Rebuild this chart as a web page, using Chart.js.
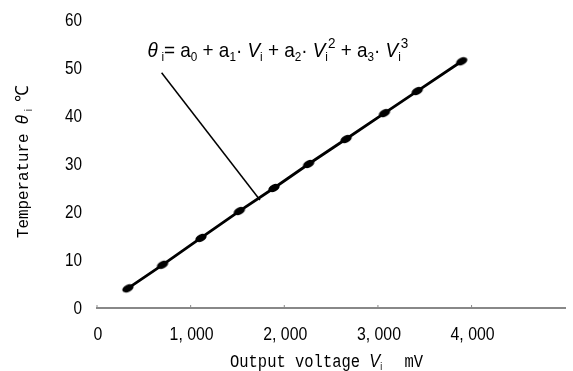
<!DOCTYPE html>
<html lang="en">
<head>
    <meta charset="UTF-8">
    <title>Temperature vs output voltage</title>
    <script src="https://cdn.jsdelivr.net/npm/chart.js"></script>
    <style>
        body { margin: 0; background: #fff; }
    </style>
</head>
<body>
    <canvas id="grafico" width="573" height="371"></canvas>

<script>
    // dados
    const voltage = [330, 700, 1110, 1520, 1890, 2260, 2660, 3070, 3420, 3895];
    const temperature = [4.1, 9.0, 14.6, 20.2, 25.0, 30.0, 35.2, 40.6, 45.2, 51.4];
    const xTicks = [0, 1000, 2000, 3000, 4000];
    const xTickLabels = ['0', '1, 000', '2, 000', '3, 000', '4, 000'];
    const yTicks = [0, 10, 20, 30, 40, 50, 60];
    // linha que liga a formula a curva
    const leaderV = [690, 1740];
    const leaderT = [49.0, 22.5];
    const formulaV = 540;
    const formulaT = 52.3;

    const sans = "'Liberation Sans', Arial, sans-serif";
    const mono = "'Liberation Mono', 'DejaVu Sans Mono', monospace";

    function pontos(xs, ys) {
        return xs.map((v, i) => ({ x: v, y: ys[i] }));
    }

    // marcador em forma de elipse inclinada, como no grafico original
    function marcador() {
        const c = document.createElement('canvas');
        c.width = 16; c.height = 16;
        const g = c.getContext('2d');
        g.fillStyle = '#000';
        g.beginPath();
        g.ellipse(8, 8, 6, 3.6, -25 * Math.PI / 180, 0, Math.PI * 2);
        g.fill();
        return c;
    }

    // escreve texto com partes em fontes diferentes, comprimido na horizontal
    function textoRico(ctx, x, y, sx, partes, rot) {
        ctx.save();
        ctx.translate(x, y);
        if (rot) ctx.rotate(rot);
        ctx.scale(sx, 1);
        let px = 0;
        partes.forEach(p => {
            ctx.font = p.f;
            ctx.fillText(p.t, px, p.dy || 0);
            px += ctx.measureText(p.t).width + (p.gap || 0);
        });
        ctx.restore();
    }

    function textoEstreito(ctx, t, x, y, sx, font, align) {
        ctx.save();
        ctx.translate(x, y);
        ctx.scale(sx, 1);
        ctx.font = font;
        ctx.textAlign = align;
        ctx.textBaseline = 'middle';
        ctx.fillText(t, 0, 0);
        ctx.restore();
    }

    const textos = {
        id: 'textos',
        afterDraw(chart) {
            const ctx = chart.ctx;
            const xs = chart.scales.x, ys = chart.scales.y;
            ctx.save();
            ctx.fillStyle = '#000';
            ctx.textBaseline = 'alphabetic';
            ctx.textAlign = 'left';

            // marcas do eixo y
            yTicks.forEach(v => {
                textoEstreito(ctx, String(v), 82, ys.getPixelForValue(v) + 1, 0.85, '18px ' + sans, 'right');
            });
            // marcas do eixo x
            xTicks.forEach((v, i) => {
                textoEstreito(ctx, xTickLabels[i], xs.getPixelForValue(v) + 1, 335, 0.88, '18px ' + sans, 'center');
                ctx.fillStyle = '#888';
                ctx.fillRect(xs.getPixelForValue(v) - 0.5, ys.bottom - 3, 1, 2);
                ctx.fillStyle = '#000';
            });

            // formula
            const f = '21px ' + sans, fi = 'italic 21px ' + sans, fs = '13px ' + sans, fp = '15px ' + sans;
            textoRico(ctx, xs.getPixelForValue(formulaV), ys.getPixelForValue(formulaT), 0.9, [
                { t: 'θ', f: fi, gap: 4 }, { t: 'i', f: fs, dy: 4 }, { t: '= a', f: f },
                { t: '0', f: fs, dy: 4 }, { t: ' + a', f: f }, { t: '1', f: fs, dy: 4 },
                { t: '· ', f: f }, { t: 'V', f: fi }, { t: 'i', f: fs, dy: 4 },
                { t: ' + a', f: f }, { t: '2', f: fs, dy: 4 }, { t: '· ', f: f },
                { t: 'V', f: fi }, { t: 'i', f: fs, dy: 4 }, { t: '2', f: fp, dy: -9 },
                { t: ' + a', f: f }, { t: '3', f: fs, dy: 4 }, { t: '· ', f: f },
                { t: 'V', f: fi }, { t: 'i', f: fs, dy: 4 }, { t: '3', f: fp, dy: -9 }
            ]);

            // titulo do eixo x
            const fx = '18px ' + mono;
            textoRico(ctx, 230, 367, 0.86, [
                { t: 'Output voltage ', f: fx }, { t: 'V', f: 'italic 19px ' + sans },
                { t: 'i', f: '10px ' + sans, dy: 3, gap: 26 }, { t: 'mV', f: fx }
            ]);

            // titulo do eixo y
            textoRico(ctx, 28, 238, 0.93, [
                { t: 'Temperature ', f: '17px ' + mono }, { t: 'θ', f: 'italic 18px ' + sans, gap: 4 },
                { t: 'i', f: '11px ' + sans, dy: 4, gap: 8 }, { t: '℃', f: '18px ' + sans }
            ], -Math.PI / 2);
            ctx.restore();
        }
    };

    new Chart(document.getElementById('grafico'), {
        type: 'scatter',
        data: {
            datasets: [{
                data: pontos(voltage, temperature),
                showLine: true,
                borderColor: '#000',
                backgroundColor: '#000',
                borderWidth: 2.8,
                pointStyle: marcador(),
                pointRadius: 5
            }, {
                data: pontos(leaderV, leaderT),
                showLine: true,
                borderColor: '#000',
                borderWidth: 1.5,
                pointRadius: 0
            }]
        },
        options: {
            responsive: false,
            animation: false,
            layout: { padding: { left: 0, right: 1, top: 20, bottom: 0 } },
            plugins: { legend: { display: false }, tooltip: { enabled: false } },
            scales: {
                x: {
                    type: 'linear', min: 0, max: 5000,
                    afterBuildTicks: s => { s.ticks = xTicks.map(v => ({ value: v })); },
                    afterFit: s => { s.height = 63; },
                    grid: { display: false, drawTicks: false },
                    border: { color: '#888', width: 2 },
                    ticks: { display: false }
                },
                y: {
                    min: 0, max: 60,
                    afterBuildTicks: s => { s.ticks = yTicks.map(v => ({ value: v })); },
                    afterFit: s => { s.width = 97; },
                    grid: { display: false, drawTicks: false },
                    border: { display: false },
                    ticks: { display: false }
                }
            }
        },
        plugins: [textos]
    });
</script>
</body>
</html>
